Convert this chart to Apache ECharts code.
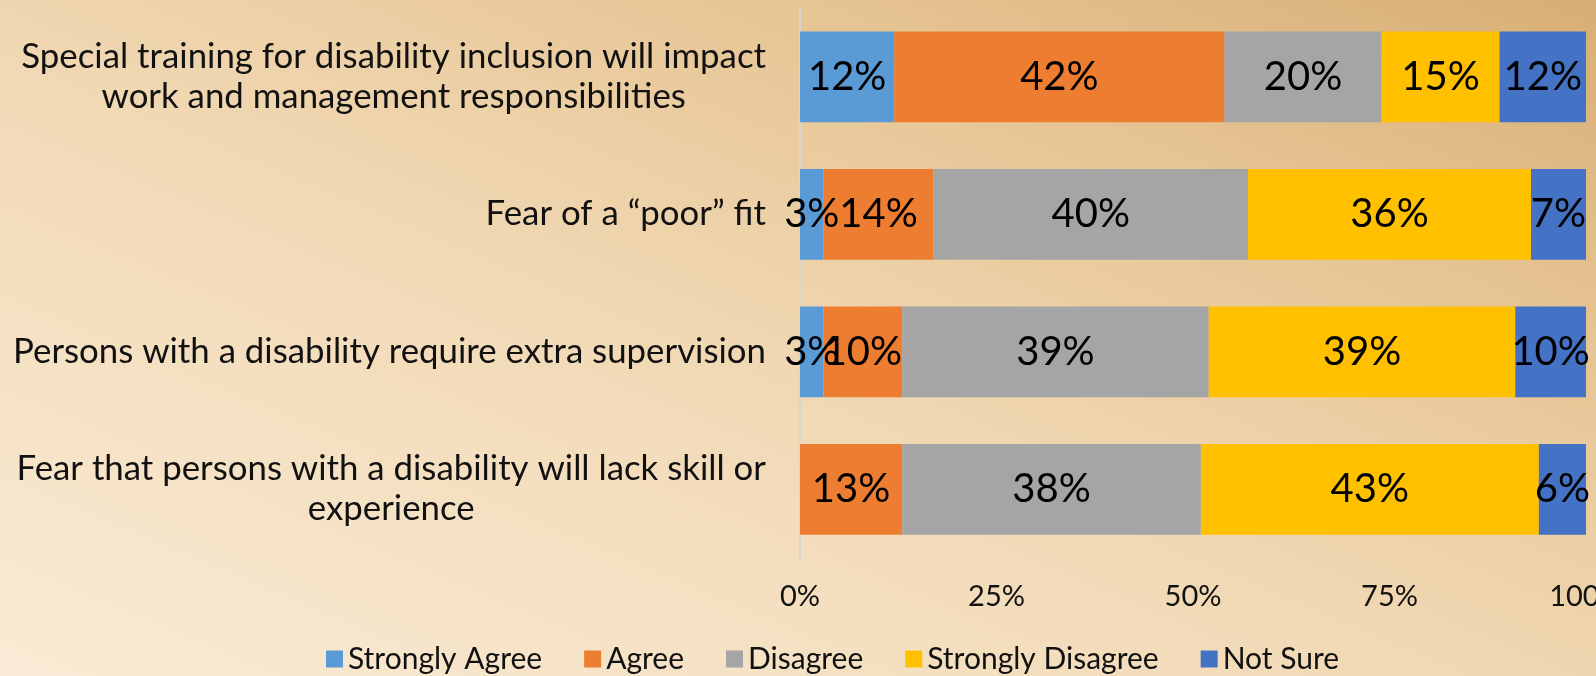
<!DOCTYPE html>
<html>
<head>
<meta charset="utf-8">
<title>Disability inclusion survey</title>
<script src="https://cdn.jsdelivr.net/npm/echarts@6/dist/echarts.min.js"></script>
<style>
  html, body { margin: 0; padding: 0; }
  body {
    width: 1596px; height: 676px; overflow: hidden;
    background: linear-gradient(to top right, #faebd6 0%, #f1d9b5 45%, #e6c493 75%, #d7ae75 100%);
  }
  #chart { width: 1596px; height: 676px; }
</style>
</head>
<body>
<div id="chart"></div>
<script>
// Survey statements (top to bottom)
const categories = [
  'Special training for disability inclusion will impact\nwork and management responsibilities',
  'Fear of a \u201Cpoor\u201D fit',
  'Persons with a disability require extra supervision',
  'Fear that persons with a disability will lack skill or\nexperience'
];

// Response shares, percent
const stronglyAgree    = [12, 3, 3, 0];
const agree            = [42, 14, 10, 13];
const disagree         = [20, 40, 39, 38];
const stronglyDisagree = [15, 36, 39, 43];
const notSure          = [12, 7, 10, 6];

const seriesNames  = ['Strongly Agree', 'Agree', 'Disagree', 'Strongly Disagree', 'Not Sure'];
const seriesValues = [stronglyAgree, agree, disagree, stronglyDisagree, notSure];
const seriesColors = ['#5B9BD5', '#ED7D31', '#A5A5A5', '#FFC000', '#4472C4'];

const xTicks = [0, 25, 50, 75, 100];

const FONT = 'Lato, "Open Sans", sans-serif';

const chart = echarts.init(document.getElementById('chart'), null, { renderer: 'canvas' });

chart.setOption({
  backgroundColor: 'transparent',
  animation: false,
  textStyle: { fontFamily: FONT },
  grid: {
    left: 800, right: 10, top: 8, bottom: 118,
    containLabel: false,
    outerBoundsMode: 'none'
  },
  legend: {
    data: seriesNames,
    left: 321,
    top: 638,
    icon: 'rect',
    itemWidth: 17,
    itemHeight: 17,
    itemGap: 42,
    textStyle: { fontFamily: FONT, fontSize: 30, color: '#111', lineHeight: 32 }
  },
  xAxis: {
    type: 'value',
    min: xTicks[0],
    max: xTicks[xTicks.length - 1],
    interval: 25,
    axisLine: { show: false },
    axisTick: { show: false },
    splitLine: { show: false },
    axisLabel: {
      formatter: '{value}%',
      fontFamily: FONT,
      fontSize: 29,
      color: '#111',
      margin: 24
    }
  },
  yAxis: {
    type: 'category',
    inverse: true,
    data: categories,
    axisLine: { show: true, lineStyle: { color: '#d9d6d0', width: 2 } },
    axisTick: { show: false },
    splitLine: { show: false },
    axisLabel: {
      margin: 34,
      align: 'right',
      formatter: v => v.split('\n').map(s => '{c|' + s + '}').join('\n'),
      rich: {
        c: { fontFamily: FONT, fontSize: 34.8, lineHeight: 40, color: '#111', align: 'center' }
      }
    }
  },
  series: seriesNames.map((name, i) => ({
    name,
    type: 'bar',
    stack: 'total',
    barWidth: '66%',
    clip: true,
    itemStyle: { color: seriesColors[i] },
    label: {
      show: true,
      position: 'inside',
      fontFamily: FONT,
      fontSize: 40,
      color: '#000',
      formatter: p => (p.value > 0 ? p.value + '%' : '')
    },
    data: seriesValues[i]
  }))
});
</script>
</body>
</html>
